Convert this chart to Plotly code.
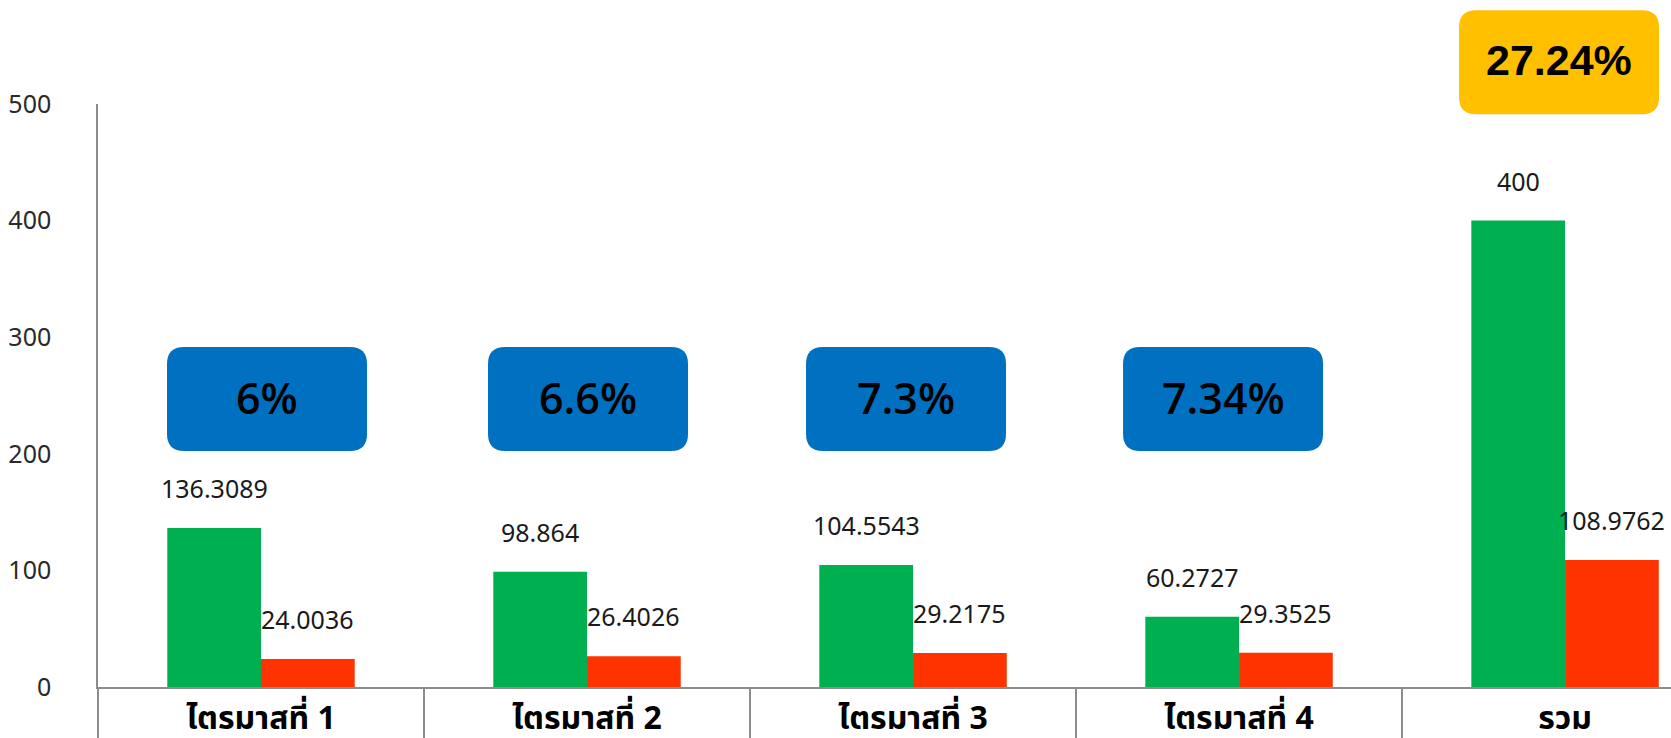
import plotly.graph_objects as go

categories = ["ไตรมาสที่ 1", "ไตรมาสที่ 2", "ไตรมาสที่ 3", "ไตรมาสที่ 4", "รวม"]
green_values = [136.3089, 98.864, 104.5543, 60.2727, 400]
red_values = [24.0036, 26.4026, 29.2175, 29.3525, 108.9762]
percent_labels = ["6%", "6.6%", "7.3%", "7.34%", "27.24%"]

GREEN = "#00B050"
RED = "#FF3300"
BLUE = "#0070C0"
YELLOW = "#FFC000"
AXIS = "#8C8C8C"
FONT = "Noto Sans, Tahoma, Noto Sans Thai, sans-serif"

BARGAP = 0.425
half_bar = (1 - BARGAP) / 4  # centre offset of each bar in a group

fig = go.Figure()
fig.add_trace(go.Bar(x=categories, y=green_values, marker=dict(color=GREEN, line=dict(width=0))))
fig.add_trace(go.Bar(x=categories, y=red_values, marker=dict(color=RED, line=dict(width=0))))


def fmt(v):
    return f"{v:.10g}"


annotations = []
for i, (g, r) in enumerate(zip(green_values, red_values)):
    annotations.append(dict(x=i - half_bar, y=g, xref="x", yref="y", text=fmt(g), showarrow=False,
                            xanchor="center", yanchor="middle", yshift=40,
                            font=dict(size=25, color="#1a1a1a", family=FONT)))
    annotations.append(dict(x=i + half_bar, y=r, xref="x", yref="y", text=fmt(r), showarrow=False,
                            xanchor="center", yanchor="middle", yshift=40,
                            font=dict(size=25, color="#1a1a1a", family=FONT)))


def rounded_path(cx, w, h, rad):
    x0, x1 = cx - w / 2, cx + w / 2
    y0, y1 = -h / 2, h / 2
    return (f"M {x0 + rad},{y0} L {x1 - rad},{y0} Q {x1},{y0} {x1},{y0 + rad} "
            f"L {x1},{y1 - rad} Q {x1},{y1} {x1 - rad},{y1} "
            f"L {x0 + rad},{y1} Q {x0},{y1} {x0},{y1 - rad} "
            f"L {x0},{y0 + rad} Q {x0},{y0} {x0 + rad},{y0} Z")


box_shift = [6, 1, -7, -16, -6]  # px
box_y = [247, 247, 247, 247, 1.0715]
box_yref = ["y", "y", "y", "y", "paper"]
box_color = [BLUE, BLUE, BLUE, BLUE, YELLOW]
BOXFONT = "Open Sans, Noto Sans, sans-serif"
box_font = [BOXFONT, BOXFONT, BOXFONT, BOXFONT, "Liberation Sans, Arial, sans-serif"]
box_weight = [600, 600, 600, 600, "bold"]

shapes = []
for i, lab in enumerate(percent_labels):
    shapes.append(dict(type="path", xref="x", yref=box_yref[i], xsizemode="pixel", ysizemode="pixel",
                       xanchor=i, yanchor=box_y[i], path=rounded_path(box_shift[i], 200, 104, 17),
                       fillcolor=box_color[i], line=dict(width=0), layer="above"))
    annotations.append(dict(x=i, y=box_y[i], xref="x", yref=box_yref[i], xshift=box_shift[i], yshift=2,
                            text=lab, showarrow=False, xanchor="center", yanchor="middle",
                            font=dict(size=43, color="#000000", family=box_font[i],
                                      weight=box_weight[i])))

fig.update_layout(
    width=1671, height=738,
    margin=dict(l=98, r=0, t=104, b=47),
    paper_bgcolor="white", plot_bgcolor="white",
    barmode="group", bargap=BARGAP, bargroupgap=0,
    showlegend=False,
    shapes=shapes, annotations=annotations,
    font=dict(family=FONT),
)
fig.update_xaxes(
    type="category", range=[-0.5, 4.325],
    showline=True, linecolor=AXIS, linewidth=1.5,
    ticks="outside", tickson="boundaries", ticklen=50, tickcolor=AXIS, tickwidth=1.5,
    tickfont=dict(size=32, color="#000000", family=FONT, weight="bold"),
    ticklabelstandoff=2,
    showgrid=False, zeroline=False,
)
fig.update_yaxes(
    range=[0, 500], tickvals=[0, 100, 200, 300, 400, 500],
    showline=True, linecolor=AXIS, linewidth=1.5,
    ticks="", ticklabelstandoff=40,
    tickfont=dict(size=25, color="#2a2a2a", family=FONT),
    showgrid=False, zeroline=False,
)

fig.write_html("out.html")
